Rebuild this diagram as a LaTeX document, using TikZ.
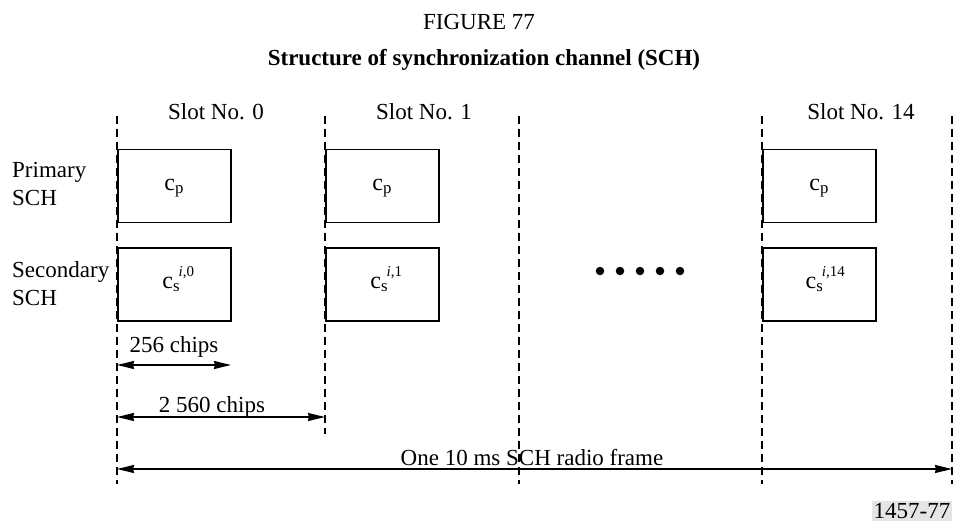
\documentclass[tikz,border=0pt]{standalone}
\usepackage{fontspec}
\setmainfont{Liberation Serif}
\usetikzlibrary{arrows.meta}
\begin{document}
\begin{tikzpicture}[x=1pt,y=-1pt,
  txt/.style={font=\fontsize{23}{28}\selectfont, inner sep=0pt, anchor=base},
  slotbox/.style={draw, line width=1.5pt, minimum width=113pt, minimum height=73pt, anchor=north west, inner sep=0pt},
  slotline/.style={line width=2.2pt, dash pattern=on 8pt off 5pt},
  dim/.style={line width=2pt, {Stealth[length=17pt,width=8pt,inset=1pt]}-{Stealth[length=17pt,width=8pt,inset=1pt]}},
  dot/.style={circle, fill=black, inner sep=0pt, minimum size=8.5pt}]
\useasboundingbox (0,0) rectangle (954,524);
% titles
\node[txt] (fig) at (479,30) {FIGURE 77};
\node[txt, font=\fontsize{23}{28}\selectfont\bfseries] (title) at (484,66) {Structure of synchronization channel (SCH)};
% slot labels
\node[txt] (s0) at (216,120) {Slot No. 0};
\node[txt] (s1) at (424,120) {Slot No. 1};
\node[txt] (s14) at (861,120) {Slot No. 14};
% row labels
\node[txt, anchor=base west] (prim1) at (12,178) {Primary};
\node[txt, anchor=base west] (prim2) at (12,206) {SCH};
\node[txt, anchor=base west] (sec1) at (12,277) {Secondary};
\node[txt, anchor=base west] (sec2) at (12,305) {SCH};
% dashed slot boundaries
\coordinate (l0t) at (117,116); \coordinate (l0b) at (117,484);
\coordinate (l1t) at (325,116); \coordinate (l1b) at (325,434);
\coordinate (l2t) at (519,116); \coordinate (l2b) at (519,484);
\coordinate (l3t) at (762,116); \coordinate (l3b) at (762,484);
\coordinate (l4t) at (952,116); \coordinate (l4b) at (952,484);
% boxes
\node[slotbox] (p0) at (117,149) {};
\node[slotbox] (p1) at (325,149) {};
\node[slotbox] (p14) at (762,149) {};
\node[slotbox] (q0) at (117,247) {};
\node[slotbox] (q1) at (325,247) {};
\node[slotbox] (q14) at (762,247) {};
\foreach \a/\b in {l0t/l0b,l1t/l1b,l2t/l2b,l3t/l3b,l4t/l4b} \draw[slotline] (\a) -- (\b);
% box texts
\foreach \b in {p0,p1,p14}
  \node[txt, font=\fontsize{24}{28}\selectfont] at ([yshift=-4pt]\b.center) {c\textsubscript{p}};
\node[txt, font=\fontsize{24}{28}\selectfont] (q0t) at ([yshift=-4pt,xshift=4pt]q0.center) {c\textsubscript{s}\raisebox{0.5em}{\fontsize{15}{17}\selectfont\kern-0.1em\textit{i},0}};
\node[txt, font=\fontsize{24}{28}\selectfont] (q1t) at ([yshift=-4pt,xshift=4pt]q1.center) {c\textsubscript{s}\raisebox{0.5em}{\fontsize{15}{17}\selectfont\kern-0.1em\textit{i},1}};
\node[txt, font=\fontsize{24}{28}\selectfont] (q14t) at ([yshift=-4pt,xshift=6pt]q14.center) {c\textsubscript{s}\raisebox{0.5em}{\fontsize{15}{17}\selectfont\kern-0.1em\textit{i},14}};
% dots
\foreach \i/\x in {1/600,2/620,3/640,4/660,5/680} \node[dot] (d\i) at (\x,271) {};
% dimensions
\coordinate (a1) at (117,365); \coordinate (b1) at (231,365);
\draw[dim] (a1) -- (b1);
\node[txt] (t256) at (174,352) {256 chips};
\coordinate (a2) at (117,417); \coordinate (b2) at (325,417);
\draw[dim] (a2) -- (b2);
\node[txt] (t2560) at (212,412) {2 560 chips};
\coordinate (a3) at (117,469); \coordinate (b3) at (952,469);
\draw[dim] (a3) -- (b3);
\node[txt] (tframe) at (532,465) {One 10 ms SCH radio frame};
% figure id
\node[txt, anchor=center, fill=black!10, inner xsep=2pt, inner ysep=2pt] (id) at (912,511) {1457-77};
\end{tikzpicture}
\end{document}
